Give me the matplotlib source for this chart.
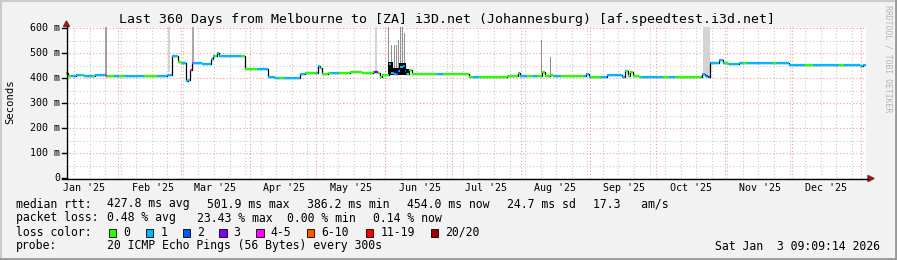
#!/usr/bin/env python3
"""
SmokePing style latency chart: Melbourne -> i3D.net Johannesburg, last 360 days.
"""

from datetime import datetime, timedelta

import numpy as np
import matplotlib
matplotlib.use("Agg")
import matplotlib.pyplot as plt
from matplotlib.lines import Line2D
from matplotlib.patches import Rectangle, Polygon

# ---------------- data ----------------
t0 = datetime(2025, 1, 8, 9, 9, 14)   # 360 days before the graph time
span_days = 360

# median rtt (ms), step levels starting at these day offsets
level_day = [0.0, 0.9, 4.4, 8.0, 13.0, 18.0, 22.0, 27.0, 31.0, 40.0, 45.5,
             47.8, 50.3, 51.6, 54.2, 55.0, 56.0, 56.9, 61.0, 65.1, 66.2,
             67.8, 68.8, 71.0, 76.0, 80.6, 91.0, 94.0, 101.0, 105.5, 107.5,
             112.5, 113.5, 114.5, 115.3, 118.0, 123.0, 128.0, 133.0, 138.3,
             140.5, 141.4, 142.3, 145.3, 146.3, 147.5, 149.3, 150.3, 151.5,
             152.4, 153.2, 154.5, 155.5, 181.5, 198.5, 203.5, 204.5, 214.0,
             215.5, 218.0, 219.0, 233.8, 235.5, 243.5, 250.4, 251.5, 253.0,
             254.0, 255.0, 258.0, 286.2, 287.5, 288.7, 289.7, 292.5, 294.0,
             295.5, 298.0, 303.0, 311.0, 322.0, 325.5, 357.5, 358.5]
level_ms = [419, 409, 412, 409, 411, 407, 410, 407, 409, 407, 412,
            489, 465, 461, 388, 394, 432, 462, 456, 475, 488,
            501, 490, 489, 487, 435, 405, 402, 400, 415, 419,
            420, 450, 440, 417, 419, 421, 423, 421, 425,
            420, 403, 412, 455, 420, 418, 430, 445, 450,
            430, 418, 432, 416, 405, 410, 419, 408, 423,
            408, 412, 408, 415, 406, 412, 405, 430, 410,
            425, 410, 405, 415, 408, 405, 461, 459, 472,
            460, 457, 460, 462, 459, 453, 447, 454]

# loss colour index per time span (0 = no loss ... 7 = 20/20)
loss_day = [0.0, 2.1, 6.6, 7.8, 11.9, 12.6, 17.4, 18.3, 21.6, 23.9, 26.1,
            35.1, 41.1, 49.8, 52.1, 55.9, 57.0, 66.5, 67.8, 78.6,
            85.8, 95.7, 98.0, 107.4, 112.4, 114.6, 119.1, 122.7, 138.5,
            140.5, 145.3, 148.4, 149.7, 152.0, 153.3, 166.8, 169.5, 183.0,
            185.7, 203.7, 207.3, 210.0, 211.8, 219.5, 222.6, 233.0, 236.2,
            240.6, 251.9, 258.7, 268.5, 271.3, 274.0, 285.6, 287.9, 290.1,
            296.4, 298.2, 304.5, 306.3, 318.0, 319.4, 332.4, 336.0, 347.8,
            350.0]
loss_idx = [0, 1, 0, 1, 0, 1, 4, 0, 1, 0, 1,
            0, 1, 0, 1, 4, 1, 0, 1, 0,
            1, 0, 1, 0, 1, 0, 1, 0, 3,
            0, 1, 2, 1, 2, 0, 1, 0, 1,
            0, 1, 0, 1, 0, 1, 0, 1, 0,
            1, 0, 1, 0, 1, 0, 1, 2, 1,
            0, 1, 0, 1, 0, 1, 0, 1, 0,
            1]

loss_labels = ["0", "1", "2", "3", "4-5", "6-10", "11-19", "20/20"]
loss_colors = ["#26ff00", "#00b8ff", "#0059ff", "#7e00ff",
               "#ff00ff", "#ff5500", "#ff0000", "#a00000"]

# smoke spikes: day, width (days), bottom, top (ms)
smoke_day = [17.9, 46.4, 57.0, 139.3, 145.2, 146.6, 147.7, 148.8, 149.7,
             150.6, 151.5, 152.4, 214.1, 218.1, 288.3]
smoke_width = [0.7, 0.9, 0.9, 0.9, 0.5, 0.5, 0.5, 0.5, 0.5,
               0.5, 0.5, 0.5, 0.5, 0.5, 3.0]
smoke_low = [410, 425, 460, 425, 420, 420, 420, 420, 420,
             420, 420, 420, 420, 415, 410]
smoke_high = [620, 620, 620, 620, 620, 532, 532, 532, 552,
              620, 620, 580, 552, 485, 620]
smoke_shade = ["#a0a0a0", "#d4d4d4", "#a8a8a8", "#d4d4d4", "#909090", "#909090",
               "#909090", "#909090", "#909090", "#909090", "#909090", "#909090",
               "#8c8c8c", "#8c8c8c", "#d4d4d4"]

# dense (black) smoke around the June burst
dark_day = [145.0, 147.3, 150.0, 153.2, 154.6]
dark_top = [465, 440, 460, 435, 418]

yticks = [0, 100, 200, 300, 400, 500, 600]
ytick_labels = ["0", "100 m", "200 m", "300 m", "400 m", "500 m", "600 m"]
month_labels = ["Jan '25", "Feb '25", "Mar '25", "Apr '25", "May '25", "Jun '25",
                "Jul '25", "Aug '25", "Sep '25", "Oct '25", "Nov '25", "Dec '25"]

title = "Last 360 Days from Melbourne to [ZA] i3D.net (Johannesburg) [af.speedtest.i3d.net]"
rtt_parts = ["median rtt:", "427.8 ms avg", "501.9 ms max", "386.2 ms min",
             "454.0 ms now", "24.7 ms sd", "17.3   am/s"]
loss_parts = ["packet loss:", "0.48 % avg", "23.43 % max", "0.00 % min", "0.14 % now"]
probe_text = "20 ICMP Echo Pings (56 Bytes) every 300s"
stamp_text = "Sat Jan  3 09:09:14 2026"

# ---------------- layout helpers ----------------
W, H = 897, 260
MONO = "DejaVu Sans Mono"


def fx(x):
    return x / W


def fy(y):
    return 1 - y / H


def off(d):
    return (d - t0).total_seconds() / 86400.0


fig = plt.figure(figsize=(W / 100, H / 100), dpi=100, facecolor="#f2f2f2")
ax = fig.add_axes([fx(66), fy(178), 800 / W, 151 / H])
ax.set_facecolor("white")
ax.set_xlim(0, span_days)
ax.set_ylim(0, 604)
for s in ax.spines.values():
    s.set_visible(False)
ax.set_xticks([])
ax.set_yticks([])

# grid: 50 m minor, 100 m major; weekly minor, monthly major
dots = (0, (1, 2))
for v in range(50, 601, 50):
    if v % 100:
        ax.axhline(v, color="#c8c8c8", lw=0.8, ls=dots, zorder=0)
sunday = datetime(2025, 1, 12)
while off(sunday) < span_days:
    ax.axvline(off(sunday), color="#c8c8c8", lw=0.8, ls=dots, zorder=0)
    sunday += timedelta(days=7)
for v in range(100, 601, 100):
    ax.axhline(v, color="#f29a9a", lw=0.8, ls=dots, zorder=0.5)
month_starts = [datetime(2025 + (m // 12), m % 12 + 1, 1) for m in range(1, 13)]
for d in month_starts:
    ax.axvline(off(d), color="#f29a9a", lw=0.8, ls=dots, zorder=0.5)

# smoke
ax.bar(smoke_day, np.array(smoke_high) - np.array(smoke_low), bottom=smoke_low,
       width=smoke_width, color=smoke_shade, linewidth=0, zorder=1)
ax.fill_between(dark_day, 412, dark_top, step="post", color="black",
                linewidth=0, zorder=1.5)

# median: black steps underneath, loss-coloured flats on top
ax.step(level_day + [span_days], level_ms + [level_ms[-1]], where="post",
        color="black", lw=0.9, zorder=2)
lvl_day = np.array(level_day)
ls_day = np.array(loss_day)
edges = np.append(np.union1d(lvl_day, ls_day), span_days)
for a, b in zip(edges[:-1], edges[1:]):
    lv = level_ms[np.searchsorted(lvl_day, a, side="right") - 1]
    li = loss_idx[np.searchsorted(ls_day, a, side="right") - 1]
    ax.hlines(lv, a, b, color=loss_colors[li], lw=1.6, zorder=3)

# axes lines and arrows (drawn in figure pixels)
axis_col = "black"
arrow_col = "#8f1f1f"
fig.add_artist(Line2D([fx(66.5), fx(66.5)], [fy(178), fy(26)], color=axis_col, lw=1))
fig.add_artist(Line2D([fx(62), fx(868)], [fy(178.5), fy(178.5)], color=axis_col, lw=1))
fig.add_artist(Polygon([[fx(66.5), fy(21)], [fx(63.5), fy(26.5)], [fx(69.5), fy(26.5)]],
                       closed=True, color=arrow_col))
fig.add_artist(Polygon([[fx(874), fy(178.5)], [fx(868), fy(175.5)], [fx(868), fy(181.5)]],
                       closed=True, color=arrow_col))

# y tick marks and labels
for v, lab in zip(yticks, ytick_labels):
    ypx = 178 - v * 0.25
    fig.add_artist(Line2D([fx(62), fx(66.5)], [fy(ypx), fy(ypx)], color=axis_col, lw=1))
    fig.text(fx(60), fy(ypx), lab, ha="right", va="center", fontsize=7.2,
             family=MONO, color="black")

# month labels centred mid-month
for m, lab in enumerate(month_labels):
    d = off(datetime(2025, m + 1, 16, 12))
    fig.text(fx(66 + d * 800 / span_days), fy(188), lab, ha="center", va="center",
             fontsize=7.2, family=MONO)

fig.text(fx(10), fy(102), "Seconds", rotation=90, ha="center", va="center",
         fontsize=7.6, family=MONO)
fig.text(fx(447), fy(19), title, ha="center", va="center", fontsize=9.5, family=MONO)
fig.text(fx(888), fy(59), "RRDTOOL / TOBI OETIKER", rotation=270, ha="center",
         va="center", fontsize=5.9, family=MONO, color="#b4b4b4")

# legend
leg = dict(fontsize=8.3, family=MONO, va="center", ha="left")
for xp, txt in zip([16, 107, 207, 307, 407, 507, 593], rtt_parts):
    fig.text(fx(xp), fy(204), txt, **leg)
for xp, txt in zip([16, 107, 197, 287, 372.7], loss_parts):
    fig.text(fx(xp), fy(218), txt, **leg)
fig.text(fx(16), fy(232), "loss color:", **leg)
box_x = [108.7, 145.7, 182.7, 219, 256, 306.7, 365.7, 430.7]
for bx, col, lab in zip(box_x, loss_colors, loss_labels):
    fig.add_artist(Rectangle((fx(bx), fy(236.5)), 7.5 / W, 8 / H, facecolor=col,
                             edgecolor="black", lw=0.6))
    fig.text(fx(bx + 14.5), fy(232), lab, **leg)
fig.text(fx(16), fy(246), "probe:", **leg)
fig.text(fx(107), fy(246), probe_text, **leg)
fig.text(fx(880), fy(246), stamp_text, fontsize=8.3, family=MONO, va="center", ha="right")

# 3d-ish frame
fig.add_artist(Line2D([0, 1], [fy(0.5), fy(0.5)], color="#cbcbcb", lw=1.5))
fig.add_artist(Line2D([fx(0.5), fx(0.5)], [0, 1], color="#cbcbcb", lw=1.5))
fig.add_artist(Line2D([0, 1], [fy(259), fy(259)], color="#999999", lw=2))
fig.add_artist(Line2D([fx(896), fx(896)], [0, 1], color="#999999", lw=2))

fig.savefig("out.png", dpi=100, facecolor=fig.get_facecolor())
